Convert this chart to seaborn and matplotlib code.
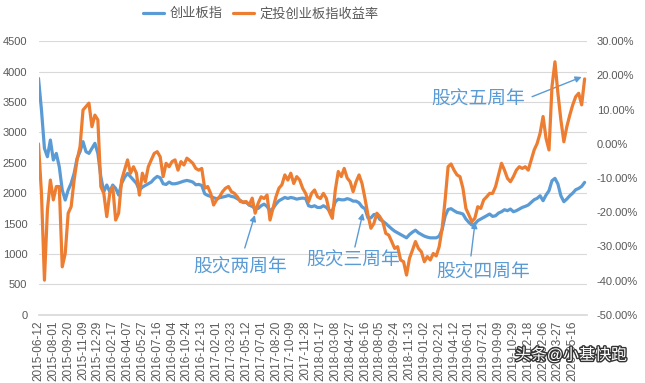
import numpy as np
import pandas as pd
import matplotlib
matplotlib.use('Agg')
import matplotlib.pyplot as plt
from matplotlib.ticker import PercentFormatter, MultipleLocator
import matplotlib.patheffects as pe
import seaborn as sns

# ---------------- data ----------------
start_date = '2015-06-12'
step_days = 10

chinext = [
    3890, 3369, 2738, 2600, 2875, 2546, 2655, 2436, 2052, 1887,
    2052, 2162, 2326, 2573, 2683, 2848, 2683, 2655, 2738, 2820,
    2655, 2271, 2024, 2134, 2024, 2134, 2079, 1969, 2162, 2260,
    2326, 2271, 2216, 2162, 2050, 2100, 2128, 2155, 2183, 2238,
    2276, 2254, 2155, 2144, 2183, 2155, 2155, 2166, 2183, 2199,
    2210, 2199, 2183, 2139, 2144, 2128, 1991, 1963, 1947, 1925,
    1909, 1925, 1936, 1947, 1963, 1947, 1936, 1909, 1881, 1845,
    1848, 1804, 1782, 1749, 1749, 1793, 1820, 1782, 1710, 1749,
    1820, 1875, 1902, 1930, 1913, 1930, 1919, 1902, 1913, 1919,
    1913, 1793, 1777, 1793, 1765, 1765, 1793, 1765, 1710, 1710,
    1858, 1902, 1891, 1891, 1910, 1896, 1869, 1869, 1841, 1776,
    1743, 1594, 1594, 1649, 1649, 1567, 1540, 1501, 1457, 1413,
    1375, 1348, 1320, 1293, 1265, 1320, 1359, 1391, 1348, 1320,
    1293, 1276, 1265, 1265, 1265, 1293, 1402, 1622, 1732, 1745,
    1712, 1684, 1673, 1657, 1574, 1519, 1476, 1492, 1547, 1574,
    1602, 1629, 1657, 1618, 1629, 1673, 1695, 1728, 1712, 1739,
    1695, 1712, 1739, 1766, 1783, 1805, 1849, 1893, 1915, 1958,
    1876, 1969, 2041, 2205, 2244, 2151, 1958, 1860, 1904, 1958,
    2002, 2057, 2079, 2112, 2178,
]

dingtou_pct = [
    0.0, -14.5, -39.9, -19.4, -10.6, -16.4, -12.5, -12.5, -36.0, -32.1,
    -20.3, -18.4, -10.6, -4.7, -0.8, 9.9, 10.9, 11.9, 5.0, 8.4,
    7.0, -12.5, -14.5, -21.3, -14.5, -12.5, -22.3, -20.3, -10.6, -7.7,
    -4.7, -8.6, -6.7, -8.6, -15.0, -8.6, -11.1, -6.7, -4.7, -2.8,
    -2.3, -3.8, -9.6, -5.7, -6.7, -5.2, -4.7, -7.7, -5.2, -6.2,
    -4.2, -4.9, -5.7, -7.2, -7.7, -7.2, -13.0, -12.5, -14.5, -17.9,
    -16.4, -15.5, -14.0, -13.0, -12.5, -14.0, -14.5, -15.5, -16.9, -17.0,
    -16.9, -17.9, -15.9, -20.3, -17.4, -15.5, -16.0, -15.0, -22.3, -18.9,
    -15.5, -13.0, -12.0, -9.1, -10.6, -8.6, -11.6, -9.6, -10.6, -13.0,
    -14.5, -16.9, -14.5, -13.5, -15.5, -16.0, -14.5, -16.0, -19.9, -21.8,
    -13.5, -8.1, -9.6, -7.2, -10.0, -11.1, -14.0, -11.1, -9.1, -11.6,
    -16.0, -20.8, -24.7, -23.3, -20.3, -21.3, -22.8, -26.2, -26.7, -28.6,
    -30.6, -30.1, -34.0, -34.5, -38.4, -33.5, -31.1, -28.6, -30.6, -31.6,
    -34.5, -33.0, -34.0, -32.1, -32.8, -30.1, -24.7, -16.4, -6.7, -5.9,
    -7.7, -9.1, -9.6, -13.0, -18.9, -20.8, -22.8, -21.8, -18.4, -18.9,
    -16.4, -15.5, -14.5, -14.5, -12.5, -9.1, -5.7, -7.7, -10.1, -11.1,
    -9.6, -7.7, -6.7, -7.2, -6.7, -7.7, -4.7, -1.8, 0.1, 3.1,
    8.0, 1.6, -1.8, 16.7, 24.0, 14.8, 7.0, 0.6, 5.0, 8.4,
    11.4, 13.8, 14.8, 11.4, 19.0,
]

series_names = ['创业板指', '定投创业板指收益率']
tick_step_days = 50
n_ticks = 37
annotations = ['股灾两周年', '股灾三周年', '股灾四周年', '股灾五周年']
watermark = '头条@小基快跑'

# ---------------- styling ----------------
sns.set_theme(style='white')
plt.rcParams['font.family'] = ['Liberation Sans', 'Noto Sans CJK SC', 'DejaVu Sans']
plt.rcParams['axes.unicode_minus'] = False

BLUE = '#5B9BD5'
ORANGE = '#ED7D31'
GRID = '#D9D9D9'
TXT = '#595959'

W, H = 645, 383
fig = plt.figure(figsize=(W / 100, H / 100), dpi=100)
x0, x1, ytop, ybot = 38.5, 587, 41.3, 314.7
ax = fig.add_axes([x0 / W, 1 - ybot / H, (x1 - x0) / W, (ybot - ytop) / H])

start = pd.Timestamp(start_date)
dates = pd.date_range(start, periods=len(chinext), freq=f'{step_days}D')
df = pd.DataFrame({'date': dates, 'chinext': chinext,
                   'dingtou': np.array(dingtou_pct) / 100.0})

sns.lineplot(data=df, x='date', y='chinext', ax=ax, color=BLUE, lw=2.3,
             legend=False)
ax2 = ax.twinx()
sns.lineplot(data=df, x='date', y='dingtou', ax=ax2, color=ORANGE, lw=2.3,
             legend=False)

def day(n):
    return start + pd.Timedelta(days=n)

ax.set_xlim(start, day(1848))
ax.set_ylim(0, 4500)
ax.yaxis.set_major_locator(MultipleLocator(500))
ax2.set_ylim(-0.5, 0.3)
ax2.yaxis.set_major_locator(MultipleLocator(0.1))
ax2.yaxis.set_major_formatter(PercentFormatter(1.0, decimals=2))

ticks = pd.date_range(start, periods=n_ticks, freq=f'{tick_step_days}D')
ax.set_xticks(ticks)
ax.set_xticklabels([t.strftime('%Y-%m-%d') for t in ticks], rotation=90)

for a in (ax, ax2):
    a.set_xlabel('')
    a.set_ylabel('')
    for s in a.spines.values():
        s.set_visible(False)
ax.spines['bottom'].set_visible(True)
ax.spines['bottom'].set_color(GRID)
ax.grid(axis='y', color=GRID, lw=0.8)
ax.grid(axis='x', visible=False)
ax2.grid(False)
ax.set_axisbelow(True)

ax.tick_params(axis='y', length=0, pad=8, labelsize=8, labelcolor=TXT)
ax.tick_params(axis='x', length=0, pad=4, labelsize=8.5, labelcolor=TXT)
ax2.tick_params(axis='y', length=0, pad=7, labelsize=8, labelcolor=TXT)

# legend
fig.legend(handles=[ax.lines[0], ax2.lines[0]], labels=series_names,
           loc='center', bbox_to_anchor=(261 / W, 1 - 14 / H), ncol=2,
           frameon=False, fontsize=9.5, handlelength=1.6, handletextpad=0.4,
           columnspacing=0.8, labelcolor=TXT)

# annotations: (text day, text value, tail day, tail value, tip day, tip value)
ann_pos = [
    (679, 769, 695, 1098, 729, 1641),
    (1060, 884, 1066, 1114, 1093, 1674),
    (1498, 686, 1457, 966, 1471, 1526),
    (1481, 3534, 1663, 3588, 1830, 3913),
]
for label, (td, tv, ad, av, pd_, pv) in zip(annotations, ann_pos):
    ax.text(day(td), tv, label, ha='center', va='center', fontsize=13.5,
            color=BLUE, zorder=5)
    ax.annotate('', xy=(day(pd_), pv), xytext=(day(ad), av),
                arrowprops=dict(arrowstyle='-|>', color=BLUE, lw=1.0,
                                mutation_scale=9, shrinkA=0, shrinkB=0),
                zorder=5)

fig.text(571 / W, 1 - 355 / H, watermark, ha='center', va='center',
         fontsize=11.5, color='white',
         path_effects=[pe.withStroke(linewidth=2, foreground='#333333')])

fig.savefig('out.png', dpi=100)
